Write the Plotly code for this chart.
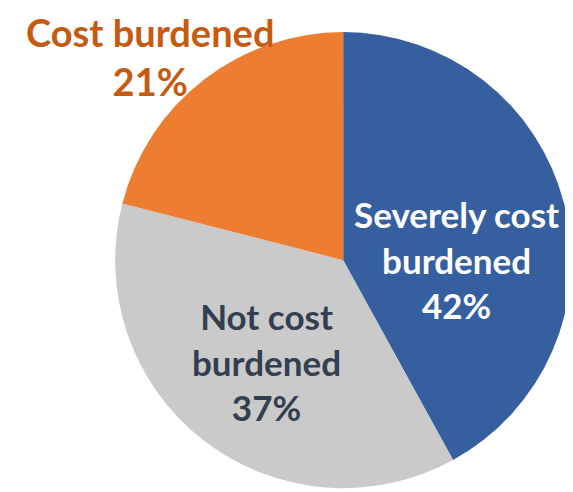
import plotly.graph_objects as go

labels = ["Severely cost burdened", "Not cost burdened", "Cost burdened"]
values = [42, 37, 21]
colors = ["#365FA0", "#CACACA", "#ED7D31"]
label_lines = [["Severely cost", "burdened"], ["Not cost", "burdened"], ["Cost burdened"]]
label_colors = ["#FFFFFF", "#333F50", "#C55A11"]
label_sizes = [35, 35, 38]

fig = go.Figure(go.Pie(
    labels=labels, values=values, sort=False, direction="clockwise", rotation=0,
    marker=dict(colors=colors, line=dict(width=0)),
    textinfo="none", hoverinfo="label+percent", showlegend=False,
    domain=dict(x=[0.187, 0.983], y=[0.024, 0.951]),
))

# label anchor positions (paper coords) and vertical anchors
label_pos = [(0.782, 0.488, "middle"), (0.451, 0.2825, "middle"), (0.247, 1.0, "top")]
for lines, v, c, s, (x, y, ya) in zip(label_lines, values, label_colors, label_sizes, label_pos):
    fig.add_annotation(
        x=x, y=y, xref="paper", yref="paper", showarrow=False,
        text="<br>".join(lines + [f"{v}%"]),
        font=dict(family="Lato", size=s, color=c, weight="bold"),
        align="center", xanchor="center", yanchor=ya, borderpad=0,
    )

fig.update_layout(
    width=573, height=492, margin=dict(l=0, r=0, t=0, b=0),
    paper_bgcolor="white", plot_bgcolor="white",
)
fig.write_html("out.html")
